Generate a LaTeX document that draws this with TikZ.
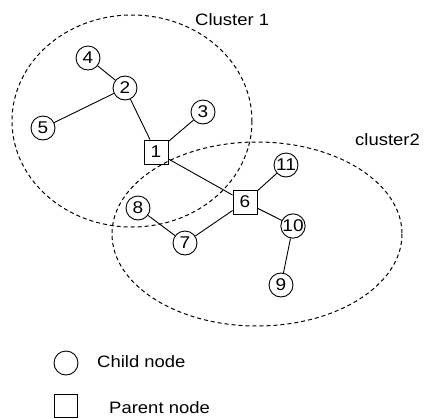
\documentclass[tikz,border=0pt]{standalone}
\usepackage{fontspec}
\usepackage{graphicx}
\setmainfont{Liberation Sans}
\newcommand{\wtxt}[1]{\scalebox{1.12}[1]{#1}}
\begin{document}
\begin{tikzpicture}[x=1pt,y=-1pt,
  child/.style={circle,draw,line width=0.9pt,minimum size=24pt,inner sep=0pt,font=\fontsize{17}{17}\selectfont},
  parent/.style={rectangle,draw,line width=0.9pt,minimum size=24pt,inner sep=0pt,font=\fontsize{17}{17}\selectfont},
  link/.style={line width=0.9pt},
  cluster/.style={line width=1pt,dash pattern=on 4pt off 3pt},
  lbl/.style={font=\fontsize{16.5}{16.5}\selectfont,inner sep=0pt}]
\useasboundingbox (0,0) rectangle (425,418);
% clusters
\draw[cluster] (132,121) ellipse [x radius=120,y radius=106];
\draw[cluster] (257,234) ellipse [x radius=145,y radius=92];
\node[lbl,anchor=west] (c1) at (195,20) {\wtxt{Cluster 1}};
\node[lbl,anchor=west] (c2) at (355,140) {\wtxt{cluster2}};
% nodes
\node[child] (n4) at (88,58) {\wtxt{4}};
\node[child] (n2) at (125,88) {\wtxt{2}};
\node[child] (n5) at (43,128) {\wtxt{5}};
\node[child] (n3) at (203,112) {\wtxt{3}};
\node[parent] (n1) at (156,152) {\wtxt{1}};
\node[parent] (n6) at (245,202) {\wtxt{6}};
\node[child] (n11) at (286,165) {\wtxt{11}};
\node[child] (n10) at (293,226) {\wtxt{10}};
\node[child] (n9) at (281,285) {\wtxt{9}};
\node[child] (n8) at (138,208) {\wtxt{8}};
\node[child] (n7) at (185,243) {\wtxt{7}};
% links
\draw[link] (n4) -- (n2);
\draw[link] (n2) -- (n5);
\draw[link] (n2) -- (n1);
\draw[link] (n1) -- (n3);
\draw[link] (n1) -- (n6);
\draw[link] (n6) -- (n11);
\draw[link] (n6) -- (n10);
\draw[link] (n10) -- (n9);
\draw[link] (n6) -- (n7);
\draw[link] (n7) -- (n8);
% legend
\node[child] (lc) at (66,363) {};
\node[lbl,anchor=west] (lct) at (97,362) {\wtxt{Child node}};
\node[parent,minimum size=23pt] (lp) at (66,406) {};
\node[lbl,anchor=west] (lpt) at (109,408) {\wtxt{Parent node}};
\end{tikzpicture}
\end{document}
